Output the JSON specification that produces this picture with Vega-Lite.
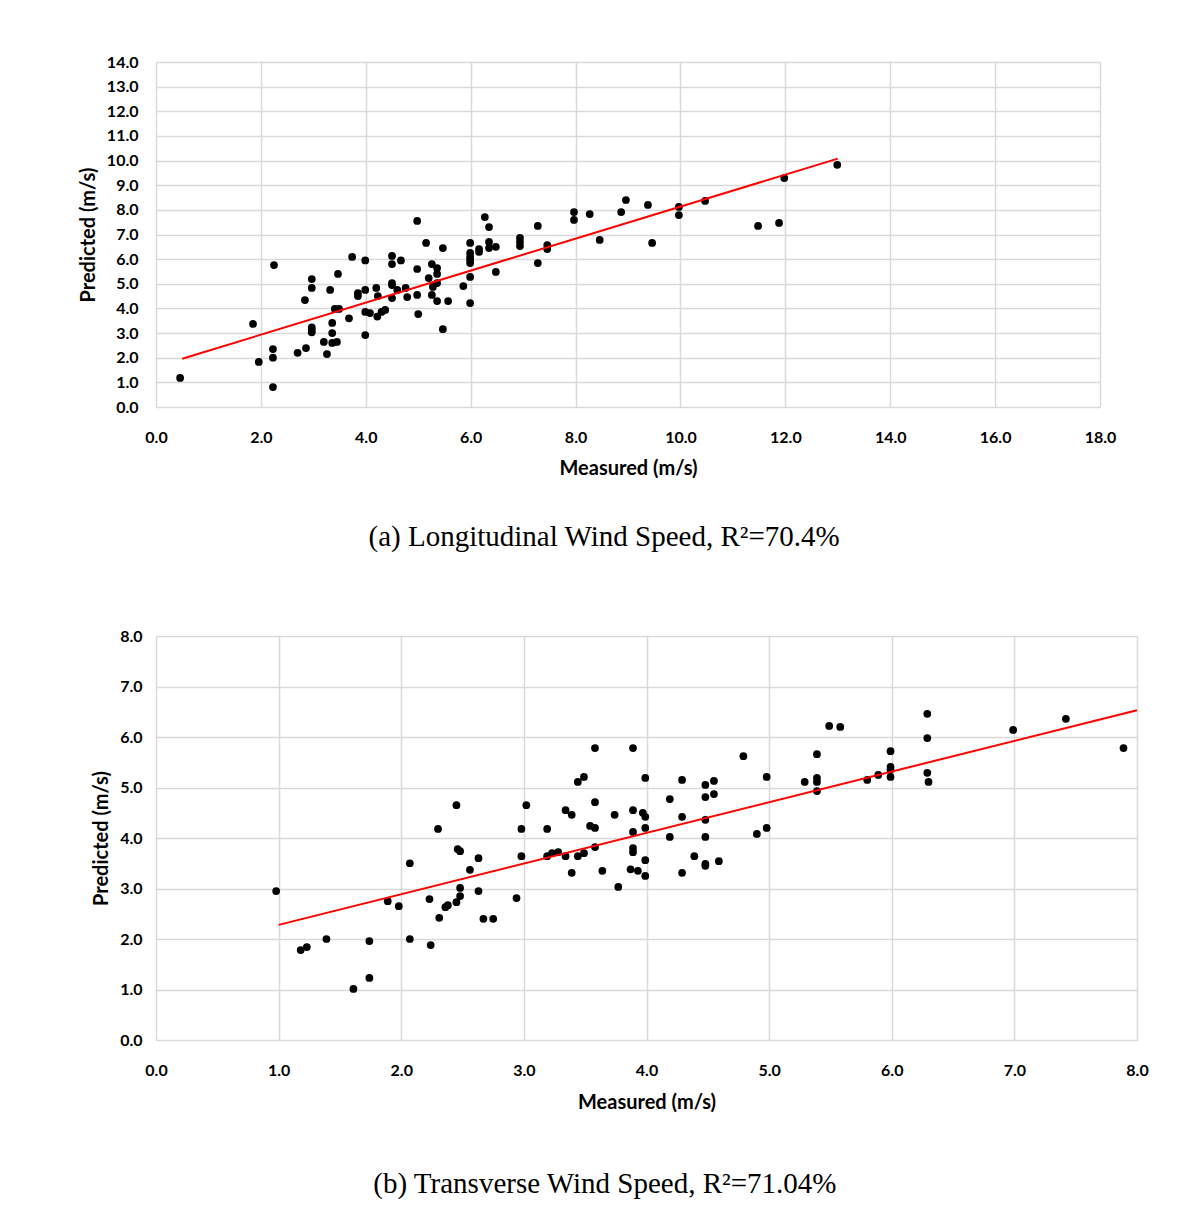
{
  "$schema": "https://vega.github.io/schema/vega-lite/v6.json",
  "background": "white",
  "padding": {"top": 54, "left": 78, "right": 10, "bottom": 10},
  "spacing": 76,
  "datasets": {
    "top": [
      {"m":0.46,"p":1.18},{"m":1.85,"p":3.37},{"m":1.96,"p":1.83},{"m":2.25,"p":5.76},{"m":2.23,"p":2.35},{"m":2.23,"p":2.0},{"m":2.23,"p":0.81},{"m":2.7,"p":2.2},{"m":2.84,"p":4.34},{"m":2.86,"p":2.39},
      {"m":2.97,"p":5.19},{"m":2.97,"p":4.83},{"m":2.97,"p":3.23},{"m":2.97,"p":3.13},{"m":2.97,"p":3.03},{"m":3.2,"p":2.64},{"m":3.26,"p":2.15},{"m":3.32,"p":4.75},{"m":3.36,"p":3.41},{"m":3.36,"p":3.0},
      {"m":3.36,"p":2.6},{"m":3.41,"p":3.98},{"m":3.45,"p":2.64},{"m":3.47,"p":5.4},{"m":3.49,"p":3.98},{"m":3.68,"p":3.6},{"m":3.74,"p":6.09},{"m":3.85,"p":4.5},{"m":3.85,"p":4.62},{"m":3.99,"p":4.75},
      {"m":3.99,"p":5.95},{"m":3.99,"p":2.92},{"m":3.99,"p":3.86},{"m":4.08,"p":3.81},{"m":4.2,"p":4.83},{"m":4.23,"p":4.5},{"m":4.22,"p":3.67},{"m":4.3,"p":3.86},{"m":4.37,"p":3.94},{"m":4.5,"p":6.13},
      {"m":4.5,"p":5.8},{"m":4.5,"p":5.03},{"m":4.5,"p":4.95},{"m":4.5,"p":4.42},{"m":4.67,"p":5.95},{"m":4.6,"p":4.75},{"m":4.76,"p":4.83},{"m":4.79,"p":4.46},{"m":4.98,"p":7.55},{"m":4.98,"p":5.6},
      {"m":4.98,"p":4.55},{"m":5.0,"p":3.77},{"m":5.15,"p":6.66},{"m":5.2,"p":5.23},{"m":5.26,"p":5.8},{"m":5.26,"p":4.55},{"m":5.28,"p":4.87},{"m":5.36,"p":5.64},{"m":5.36,"p":5.4},{"m":5.36,"p":5.03},
      {"m":5.36,"p":4.3},{"m":5.47,"p":6.45},{"m":5.47,"p":3.16},{"m":5.57,"p":4.3},{"m":5.86,"p":4.91},{"m":5.99,"p":6.66},{"m":5.99,"p":6.25},{"m":5.99,"p":6.09},{"m":5.99,"p":5.97},{"m":5.99,"p":5.84},
      {"m":5.99,"p":5.28},{"m":5.99,"p":4.22},{"m":6.16,"p":6.29},{"m":6.16,"p":6.41},{"m":6.27,"p":7.71},{"m":6.35,"p":7.3},{"m":6.35,"p":6.7},{"m":6.35,"p":6.45},{"m":6.48,"p":6.5},{"m":6.48,"p":5.48},
      {"m":6.94,"p":6.86},{"m":6.94,"p":6.7},{"m":6.94,"p":6.53},{"m":7.28,"p":7.35},{"m":7.28,"p":5.84},{"m":7.46,"p":6.57},{"m":7.46,"p":6.41},{"m":7.97,"p":7.91},{"m":7.97,"p":7.59},{"m":8.27,"p":7.83},
      {"m":8.46,"p":6.78},{"m":8.87,"p":7.91},{"m":8.96,"p":8.4},{"m":9.38,"p":8.2},{"m":9.46,"p":6.66},{"m":9.97,"p":8.12},{"m":9.97,"p":7.79},{"m":10.47,"p":8.36},{"m":11.48,"p":7.35},{"m":11.88,"p":7.47},
      {"m":11.98,"p":9.29},{"m":12.99,"p":9.83}
    ],
    "topFit": [{"m":0.5,"p":1.96},{"m":13.0,"p":10.08}],
    "bottom": [
      {"m":0.98,"p":2.95},{"m":1.18,"p":1.78},{"m":1.23,"p":1.84},{"m":1.39,"p":2.0},{"m":1.61,"p":1.01},{"m":1.74,"p":1.96},{"m":1.74,"p":1.23},{"m":1.89,"p":2.75},{"m":1.98,"p":2.65},{"m":2.07,"p":3.5},
      {"m":2.07,"p":2.0},{"m":2.23,"p":2.79},{"m":2.24,"p":1.88},{"m":2.3,"p":4.18},{"m":2.31,"p":2.42},{"m":2.36,"p":2.63},{"m":2.38,"p":2.67},{"m":2.45,"p":4.65},{"m":2.46,"p":3.78},{"m":2.48,"p":3.74},
      {"m":2.48,"p":3.01},{"m":2.48,"p":2.85},{"m":2.45,"p":2.73},{"m":2.56,"p":3.37},{"m":2.63,"p":3.6},{"m":2.63,"p":2.95},{"m":2.67,"p":2.4},{"m":2.75,"p":2.4},{"m":2.94,"p":2.81},{"m":2.98,"p":4.18},
      {"m":2.98,"p":3.64},{"m":3.02,"p":4.65},{"m":3.19,"p":4.18},{"m":3.19,"p":3.64},{"m":3.23,"p":3.7},{"m":3.28,"p":3.72},{"m":3.34,"p":3.64},{"m":3.34,"p":4.55},{"m":3.39,"p":4.46},{"m":3.39,"p":3.31},
      {"m":3.44,"p":5.11},{"m":3.49,"p":5.21},{"m":3.44,"p":3.64},{"m":3.49,"p":3.7},{"m":3.54,"p":4.24},{"m":3.58,"p":4.2},{"m":3.58,"p":5.78},{"m":3.58,"p":4.71},{"m":3.58,"p":3.82},{"m":3.64,"p":3.35},
      {"m":3.74,"p":4.46},{"m":3.77,"p":3.03},{"m":3.89,"p":5.78},{"m":3.89,"p":4.55},{"m":3.89,"p":4.12},{"m":3.89,"p":3.8},{"m":3.89,"p":3.72},{"m":3.87,"p":3.38},{"m":3.93,"p":3.35},{"m":3.97,"p":4.5},
      {"m":3.99,"p":4.42},{"m":3.99,"p":5.19},{"m":3.99,"p":4.2},{"m":3.99,"p":3.56},{"m":3.99,"p":3.25},{"m":4.19,"p":4.77},{"m":4.19,"p":4.02},{"m":4.29,"p":5.15},{"m":4.29,"p":4.42},{"m":4.29,"p":3.31},
      {"m":4.39,"p":3.64},{"m":4.48,"p":5.05},{"m":4.55,"p":5.13},{"m":4.48,"p":4.81},{"m":4.55,"p":4.87},{"m":4.48,"p":4.36},{"m":4.48,"p":4.02},{"m":4.48,"p":3.49},{"m":4.48,"p":3.45},{"m":4.59,"p":3.54},
      {"m":4.79,"p":5.62},{"m":4.9,"p":4.08},{"m":4.98,"p":5.21},{"m":4.98,"p":4.2},{"m":5.29,"p":5.11},{"m":5.39,"p":5.66},{"m":5.39,"p":5.19},{"m":5.39,"p":5.11},{"m":5.39,"p":4.93},{"m":5.49,"p":6.22},
      {"m":5.58,"p":6.2},{"m":5.8,"p":5.15},{"m":5.89,"p":5.25},{"m":5.99,"p":5.72},{"m":5.99,"p":5.41},{"m":5.99,"p":5.35},{"m":5.99,"p":5.21},{"m":6.29,"p":6.46},{"m":6.29,"p":5.98},{"m":6.29,"p":5.29},
      {"m":6.3,"p":5.11},{"m":6.99,"p":6.14},{"m":7.42,"p":6.36},{"m":7.89,"p":5.78}
    ],
    "bottomFit": [{"m":1.0,"p":2.28},{"m":8.0,"p":6.53}]
  },
  "config": {
    "font": "Lato",
    "view": {"stroke": null},
    "axis": {
      "ticks": false,
      "domain": false,
      "grid": true,
      "gridColor": "#d9d9d9",
      "gridWidth": 1.5,
      "labelFont": "Lato",
      "labelFontSize": 16,
      "labelFontWeight": "bold",
      "labelColor": "#000000",
      "labelFlush": false,
      "labelOverlap": false,
      "titleFont": "Lato",
      "titleFontSize": 20,
      "titleFontWeight": "bold",
      "titleColor": "#000000"
    },
    "axisY": {"titlePadding": 8, "labelPadding": 18},
    "axisX": {"labelPadding": 22},
    "title": {"font": "Liberation Serif", "fontSize": 29, "fontWeight": "normal", "color": "#000000"}
  },
  "vconcat": [
    {
      "width": 944,
      "height": 345,
      "title": {"text": "(a) Longitudinal Wind Speed, R²=70.4%", "orient": "bottom", "anchor": "middle", "frame": "bounds", "offset": 45, "dx": 7},
      "encoding": {
        "x": {"field": "m", "type": "quantitative", "scale": {"domain": [0, 18], "nice": false}, "axis": {"values": [0,2,4,6,8,10,12,14,16,18], "format": ".1f", "title": "Measured (m/s)", "titlePadding": 13, "labelOverlap": false}},
        "y": {"field": "p", "type": "quantitative", "scale": {"domain": [0, 14], "nice": false}, "axis": {"values": [0,1,2,3,4,5,6,7,8,9,10,11,12,13,14], "format": ".1f", "title": "Predicted (m/s)", "labelOverlap": false}}
      },
      "layer": [
        {
          "data": {"name": "top"},
          "mark": {"type": "circle", "size": 60, "color": "#000000", "opacity": 1}
        },
        {
          "data": {"name": "topFit"},
          "mark": {"type": "line", "color": "#ff0000", "strokeWidth": 2}
        }
      ]
    },
    {
      "width": 981,
      "height": 404,
      "title": {"text": "(b) Transverse Wind Speed, R²=71.04%", "orient": "bottom", "anchor": "middle", "frame": "bounds", "offset": 58, "dx": -15},
      "encoding": {
        "x": {"field": "m", "type": "quantitative", "scale": {"domain": [0, 8], "nice": false}, "axis": {"values": [0,1,2,3,4,5,6,7,8], "format": ".1f", "title": "Measured (m/s)", "titlePadding": 14, "labelOverlap": false}},
        "y": {"field": "p", "type": "quantitative", "scale": {"domain": [0, 8], "nice": false}, "axis": {"values": [0,1,2,3,4,5,6,7,8], "format": ".1f", "title": "Predicted (m/s)", "labelPadding": 14, "labelOverlap": false}}
      },
      "layer": [
        {
          "data": {"name": "bottom"},
          "mark": {"type": "circle", "size": 60, "color": "#000000", "opacity": 1}
        },
        {
          "data": {"name": "bottomFit"},
          "mark": {"type": "line", "color": "#ff0000", "strokeWidth": 2}
        }
      ]
    }
  ]
}
